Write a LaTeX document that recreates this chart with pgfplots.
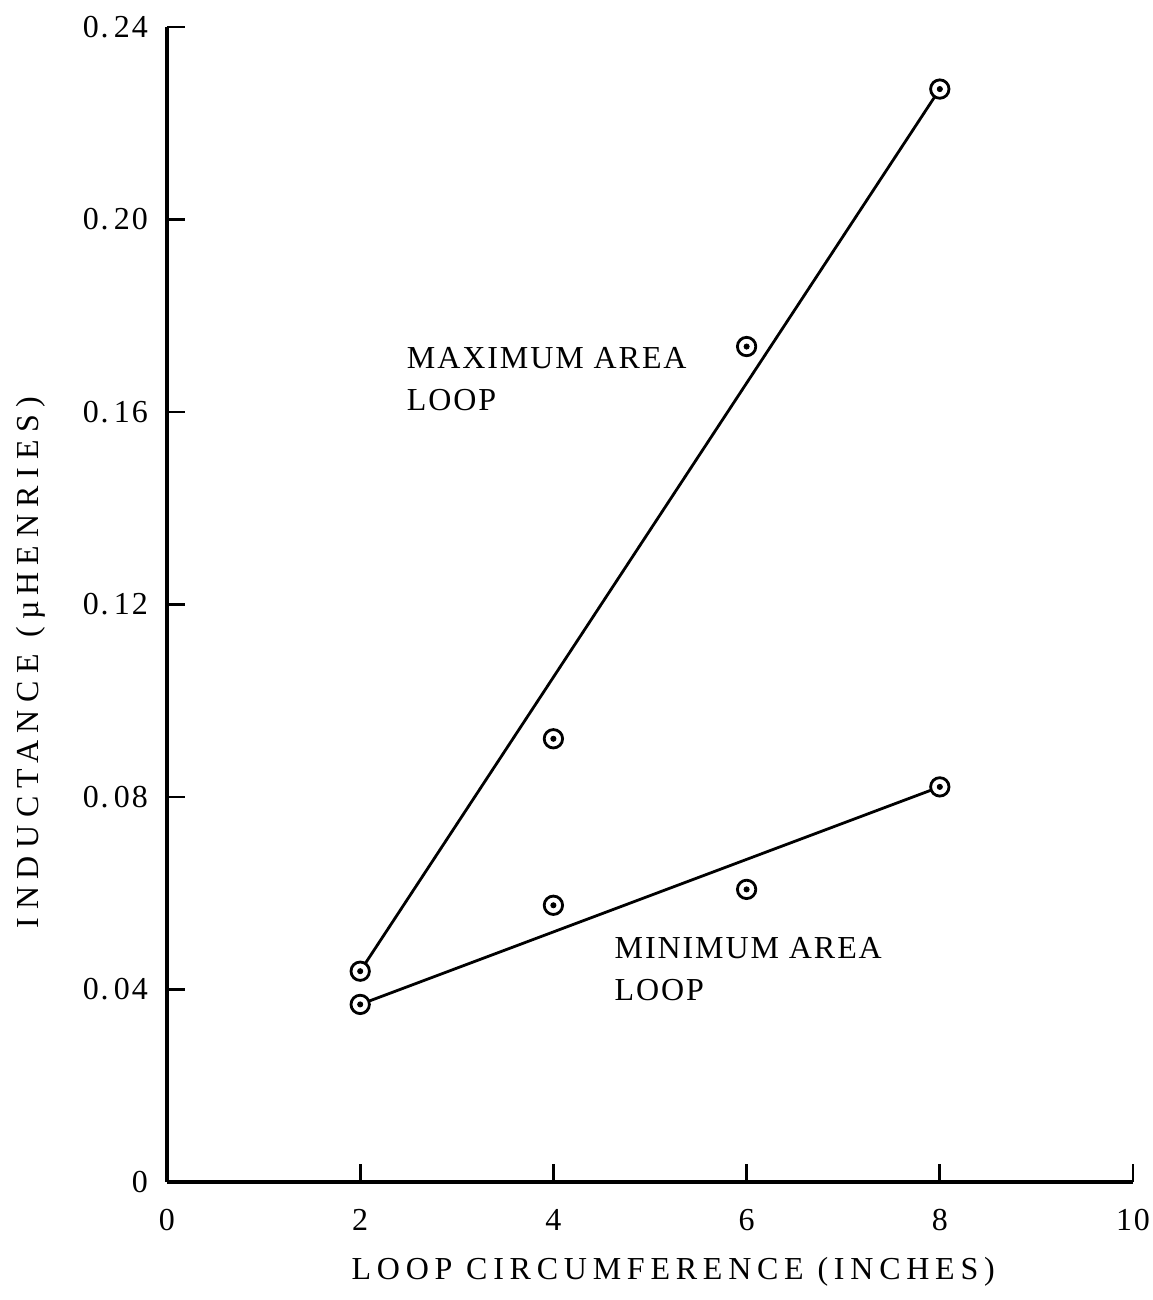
\documentclass[border=0pt]{standalone}
\usepackage{pgfplots}
\pgfplotsset{compat=1.18}
\usepackage{fontspec}
\setmainfont{Liberation Serif}[LetterSpace=6]
\begin{document}
\begin{tikzpicture}
\begin{axis}[
  at={(0,0)}, anchor=south west,
  scale only axis, width=483pt, height=577.5pt,
  xmin=0, xmax=10, ymin=0, ymax=0.24,
  axis x line*=bottom, axis y line*=left,
  axis line style={line width=1.6pt, -},
  xtick={0,2,4,6,8,10}, xticklabels={0,2,4,6,8,10},
  ytick={0,0.04,0.08,0.12,0.16,0.2,0.24},
  yticklabels={0,{0.\,04},{0.\,08},{0.\,12},{0.\,16},{0.\,20},{0.\,24}},
  xtick align=inside, ytick align=inside, major tick length=9pt,
  tick style={line width=1.4pt, black},
  ticklabel style={font=\fontsize{16}{19}\selectfont},
  xticklabel style={yshift=-10pt},
  yticklabel style={xshift=-6pt},
  clip=false,
]
\addplot[black, line width=1.4pt] coordinates {(2,0.0438) (8,0.2271)};
\addplot[black, line width=1.4pt] coordinates {(2,0.0369) (8,0.0821)};
\addplot[only marks, mark=*, mark size=4.6pt, mark options={draw=black, fill=white, line width=1.4pt}]
  coordinates {(2,0.0438) (4,0.0921) (6,0.1736) (8,0.2271)};
\addplot[only marks, mark=*, mark size=4.6pt, mark options={draw=black, fill=white, line width=1.4pt}]
  coordinates {(2,0.0369) (4,0.0575) (6,0.0608) (8,0.0821)};
\addplot[only marks, mark=*, mark size=1.3pt, black]
  coordinates {(2,0.0438) (4,0.0921) (6,0.1736) (8,0.2271)};
\addplot[only marks, mark=*, mark size=1.3pt, black]
  coordinates {(2,0.0369) (4,0.0575) (6,0.0608) (8,0.0821)};
\node[anchor=north west, align=left, inner sep=0pt, font=\fontsize{16}{21}\selectfont] at (axis cs:2.48,0.1735) {MAXIMUM AREA\\LOOP};
\node[anchor=north west, align=left, inner sep=0pt, font=\fontsize{16}{21}\selectfont] at (axis cs:4.63,0.0509) {MINIMUM AREA\\LOOP};
\node[font=\fontsize{16}{19}\selectfont\addfontfeatures{LetterSpace=18}] at (axis cs:5.24,-0.0187) {LOOP CIRCUMFERENCE (INCHES)};
\node[rotate=90, font=\fontsize{16}{19}\selectfont\addfontfeatures{LetterSpace=24}] at (axis cs:-1.415,0.108) {INDUCTANCE (µ\,HENRIES)};
\end{axis}
\pgfresetboundingbox
\path (-83.5pt,-59pt) rectangle (492.5pt,591pt);
\end{tikzpicture}
\end{document}
